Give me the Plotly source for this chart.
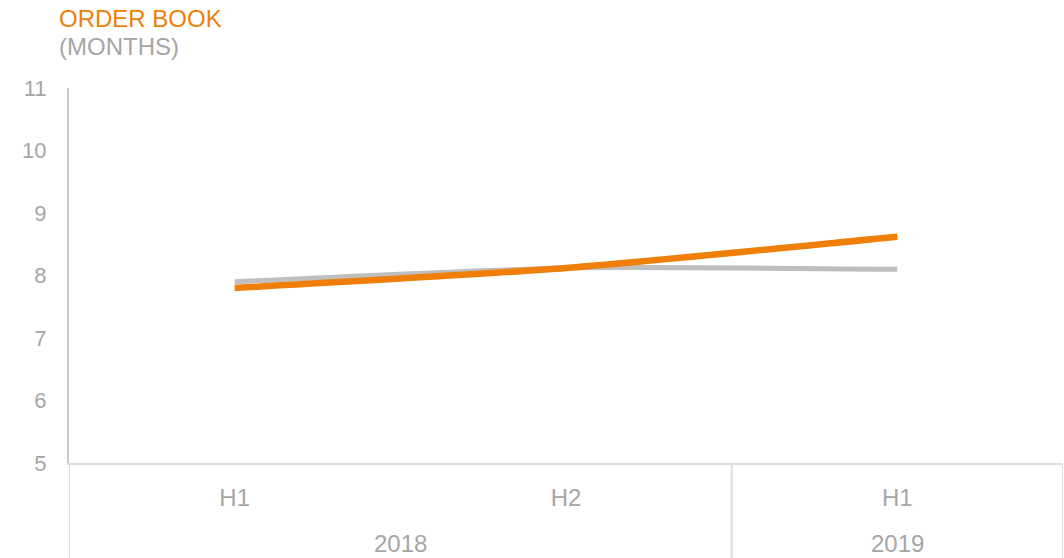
import plotly.graph_objects as go

# Datos
periodos = ["H1 2018", "H2 2018", "H1 2019"]
semestres = ["H1", "H2", "H1"]
anios = ["2018", "2019"]
centro_anios = [0.5, 2]          # centro de cada grupo en el eje de categorias
divisiones = [-0.5, 1.5, 2.5]    # limites de los grupos de anios
cartera = [7.8, 8.12, 8.62]      # naranja
referencia = [7.9, 8.12, 8.1]    # gris

fig = go.Figure()

fig.add_trace(go.Scatter(
    x=periodos, y=referencia,
    mode="lines", line=dict(color="#bfbfbf", width=5, shape="spline", smoothing=0.6),
    showlegend=False, hoverinfo="skip"
))
fig.add_trace(go.Scatter(
    x=periodos, y=cartera,
    mode="lines", line=dict(color="#f07f09", width=6.5, shape="spline", smoothing=0.6),
    showlegend=False, hoverinfo="skip"
))

# Titulo
fig.add_annotation(
    text="ORDER BOOK", xref="paper", yref="paper", x=-0.012, y=1.226,
    xanchor="left", yanchor="top", showarrow=False,
    font=dict(color="#f07f09", size=24)
)
fig.add_annotation(
    text="(MONTHS)", xref="paper", yref="paper", x=-0.012, y=1.151,
    xanchor="left", yanchor="top", showarrow=False,
    font=dict(color="#a6a6a6", size=24)
)

# Etiquetas de anio y separadores
for anio, c in zip(anios, centro_anios):
    fig.add_annotation(
        text=anio, xref="x", yref="paper", x=c, y=-0.215,
        xanchor="center", yanchor="middle", showarrow=False,
        font=dict(color="#a6a6a6", size=24)
    )
for d in divisiones:
    fig.add_shape(
        type="line", xref="x", yref="paper", x0=d, x1=d, y0=0, y1=-0.26,
        line=dict(color="#dedede", width=2)
    )

fig.update_layout(
    width=1064, height=558,
    margin=dict(l=69, r=1, t=88, b=95),
    plot_bgcolor="white", paper_bgcolor="white",
    font=dict(family="Liberation Sans", color="#a6a6a6", size=24),
)

fig.update_xaxes(
    range=[-0.5, 2.5],
    tickmode="array", tickvals=periodos, ticktext=semestres,
    showline=True, linecolor="#dedede", linewidth=2,
    showgrid=False, ticks="", ticklabelstandoff=12,
    tickfont=dict(size=24, color="#a6a6a6"),
)
fig.update_yaxes(
    range=[5, 11], dtick=1,
    showline=True, linecolor="#c8c8c8", linewidth=2,
    showgrid=False, zeroline=False,
    ticks="", ticklabelstandoff=16,
    tickfont=dict(size=22, color="#a6a6a6"),
)

fig.write_html("out.html", config={"displayModeBar": False},
               post_script="document.body.style.margin='0px';")
